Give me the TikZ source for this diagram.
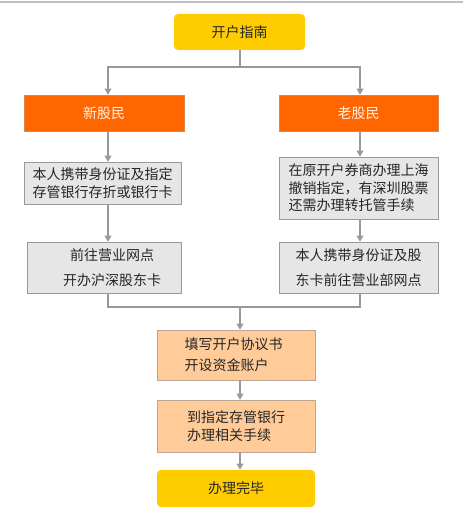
\documentclass[tikz,border=0pt]{standalone}
\usepackage{fontspec}
\usepackage{tikz}
\usetikzlibrary{positioning,arrows.meta,calc}
\newfontfamily\cjk{Noto Sans CJK SC}
\definecolor{guideYellow}{RGB}{255,204,0}
\definecolor{guideOrange}{RGB}{255,102,0}
\definecolor{guidePeach}{RGB}{255,204,153}
\definecolor{guideGrey}{RGB}{230,230,230}
\definecolor{guideLine}{RGB}{153,153,153}
\tikzset{
  guide/box/.style={align=center, inner sep=0pt, text=black!85,
                    font=\cjk\fontsize{10.5pt}{13pt}\selectfont},
  guide/start/.style={guide/box, fill=guideYellow, rounded corners=3pt},
  guide/branch/.style={guide/box, fill=guideOrange, draw=guideOrange!80!black!70,
                       text=orange!10},
  guide/stepbox/.style={guide/box, fill=guideGrey, draw=black!40},
  guide/merge/.style={guide/box, fill=guidePeach, draw=brown!60!black!50},
  guide/conn/.style={draw=guideLine, line width=0.9pt},
  guide/arrow/.style={guide/conn, -{Triangle[length=4.5pt,width=5pt]}},
}

\begin{document}
\begin{tikzpicture}[x=0.75pt, y=-0.75pt]
  \useasboundingbox (0,0) rectangle (463,516);
  \draw[draw=black!25, line width=0.8pt] (0,2) -- (463,2);

  % ---------------- columns ----------------
  \coordinate (lcol) at (108,0);
  \coordinate (rcol) at (360,0);
  \coordinate (ccol) at (240,0);

  % ---------------- top ----------------
  \node[guide/start, minimum width=131*0.75pt, minimum height=36*0.75pt]
    (title) at (239.5,32) {开户指南};
  \node[guide/branch, minimum width=160*0.75pt, minimum height=36*0.75pt]
    (new) at (104,113) {新股民};
  \node[guide/branch, minimum width=159*0.75pt, minimum height=36*0.75pt]
    (old) at (358.5,113) {老股民};

  % ---------------- left column ----------------
  \node[guide/stepbox, minimum width=157*0.75pt, minimum height=42*0.75pt]
    (nid) at (102.5,183) {本人携带身份证及指定\\存管银行存折或银行卡};
  \node[guide/stepbox, minimum width=154*0.75pt, minimum height=51*0.75pt]
    (ncard) at (104,267.5) {\hspace*{12pt}前往营业网点\\[6pt]\hspace*{12pt}开办沪深股东卡};

  % ---------------- right column ----------------
  \node[guide/stepbox, align=left, minimum width=159*0.75pt, minimum height=62*0.75pt]
    (orevoke) at (358.5,188) {在原开户券商办理上海\\撤销指定，有深圳股票\\还需办理转托管手续};
  \node[guide/stepbox, align=left, minimum width=159*0.75pt, minimum height=51*0.75pt]
    (ovisit) at (358.5,267.5) {本人携带身份证及股\\[6pt]东卡前往营业部网点};

  % ---------------- common steps ----------------
  \node[guide/merge, align=left, minimum width=158*0.75pt, minimum height=50*0.75pt]
    (fund) at (236,355) {填写开户协议书\\[3pt]开设资金账户\hspace*{14pt}};
  \node[guide/merge, align=left, minimum width=158*0.75pt, minimum height=52*0.75pt]
    (bank) at (236,426) {到指定存管银行\\[1pt]办理相关手续};
  \node[guide/start, minimum width=158*0.75pt, minimum height=37*0.75pt]
    (done) at (236,488.5) {办理完毕};

  % ---------------- connectors ----------------
  \coordinate (split) at (240,67);
  \draw[guide/conn] (title.south -| ccol) -- (split);
  \draw[guide/arrow] (split) -| (lcol |- new.north);
  \draw[guide/arrow] (split) -| (rcol |- old.north);

  \draw[guide/arrow] (lcol |- new.south) -- (lcol |- nid.north);
  \draw[guide/arrow] (lcol |- nid.south) -- (lcol |- ncard.north);
  \draw[guide/arrow] (rcol |- old.south) -- (rcol |- orevoke.north);
  \draw[guide/arrow] (rcol |- orevoke.south) -- (rcol |- ovisit.north);

  \coordinate (join) at (240,307);
  \draw[guide/conn] (lcol |- ncard.south) |- (rcol |- join) -- (rcol |- ovisit.south);
  \draw[guide/arrow] (join) -- (ccol |- fund.north);
  \draw[guide/arrow] (ccol |- fund.south) -- (ccol |- bank.north);
  \draw[guide/arrow] (ccol |- bank.south) -- (ccol |- done.north);
\end{tikzpicture}
\end{document}
